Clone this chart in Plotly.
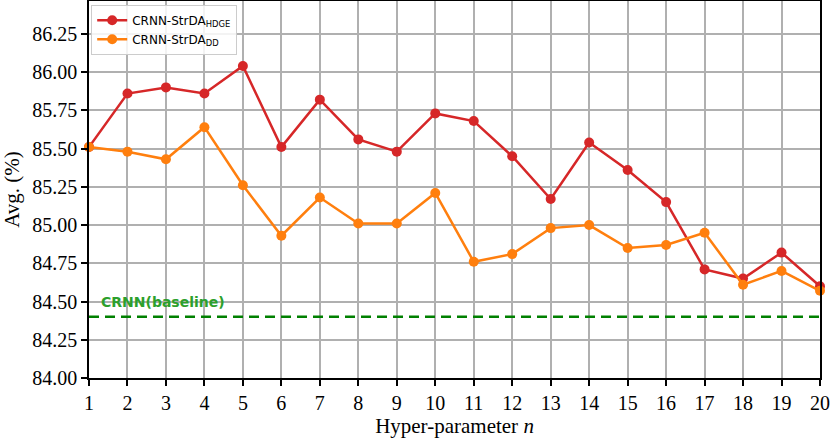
import plotly.graph_objects as go

n_values = list(range(1, 21))
hdge = [85.51, 85.86, 85.90, 85.86, 86.04, 85.51, 85.82, 85.56, 85.48, 85.73,
        85.68, 85.45, 85.17, 85.54, 85.36, 85.15, 84.71, 84.65, 84.82, 84.60]
dd = [85.51, 85.48, 85.43, 85.64, 85.26, 84.93, 85.18, 85.01, 85.01, 85.21,
      84.76, 84.81, 84.98, 85.00, 84.85, 84.87, 84.95, 84.61, 84.70, 84.57]
baseline = 84.40
y_ticks = [84.00, 84.25, 84.50, 84.75, 85.00, 85.25, 85.50, 85.75, 86.00, 86.25]

fig = go.Figure()
fig.add_trace(go.Scatter(
    x=n_values, y=hdge, mode="lines+markers",
    name="CRNN-StrDA<sub>HDGE</sub>",
    line=dict(color="#d62728", width=2.5),
    marker=dict(size=10, color="#d62728"),
    cliponaxis=False,
))
fig.add_trace(go.Scatter(
    x=n_values, y=dd, mode="lines+markers",
    name="CRNN-StrDA<sub>DD</sub>",
    line=dict(color="#ff7f0e", width=2.5),
    marker=dict(size=10, color="#ff7f0e"),
    cliponaxis=False,
))
fig.add_trace(go.Scatter(
    x=[n_values[0], n_values[-1]], y=[baseline, baseline], mode="lines",
    line=dict(color="#008000", width=2.5, dash="10px,6px"),
    showlegend=False, hoverinfo="skip",
))
fig.add_annotation(
    x=1.27, y=84.497, xref="x", yref="y",
    text="<b>CRNN(baseline)</b>", showarrow=False,
    xanchor="left", yanchor="middle",
    font=dict(family="DejaVu Sans", size=14, color="#2ca02c"),
)

axis_common = dict(
    showgrid=True, gridcolor="#b0b0b0", gridwidth=1.5,
    showline=True, linecolor="black", linewidth=1.5, mirror=True,
    ticks="outside", ticklen=6, tickwidth=1.5, tickcolor="black",
    zeroline=False,
    tickfont=dict(family="Liberation Serif", size=20, color="black"),
)
fig.update_xaxes(
    range=[1, 20], tickmode="array", tickvals=n_values,
    ticktext=[str(v) for v in n_values],
    title=dict(text="Hyper-parameter <i>n</i>", standoff=6,
               font=dict(family="Liberation Serif", size=21, color="black")),
    **axis_common,
)
fig.update_yaxes(
    range=[84.0, 86.465], tickmode="array", tickvals=y_ticks,
    ticktext=[f"{v:.2f}" for v in y_ticks],
    title=dict(text="Avg. (%)", standoff=8,
               font=dict(family="Liberation Serif", size=21, color="black")),
    **axis_common,
)
fig.update_layout(
    width=831, height=441,
    margin=dict(l=89, r=11, t=1, b=63, autoexpand=False),
    plot_bgcolor="white", paper_bgcolor="white",
    showlegend=True,
    legend=dict(
        x=0.003, y=0.99, xanchor="left", yanchor="top",
        bgcolor="rgba(255,255,255,0.85)", bordercolor="#cccccc", borderwidth=1,
        font=dict(family="DejaVu Sans", size=12, color="black"),
        itemwidth=30, tracegroupgap=0,
    ),
)
fig.write_html("out.html", config={"displayModeBar": False},
               post_script="document.body.style.margin='0';")
